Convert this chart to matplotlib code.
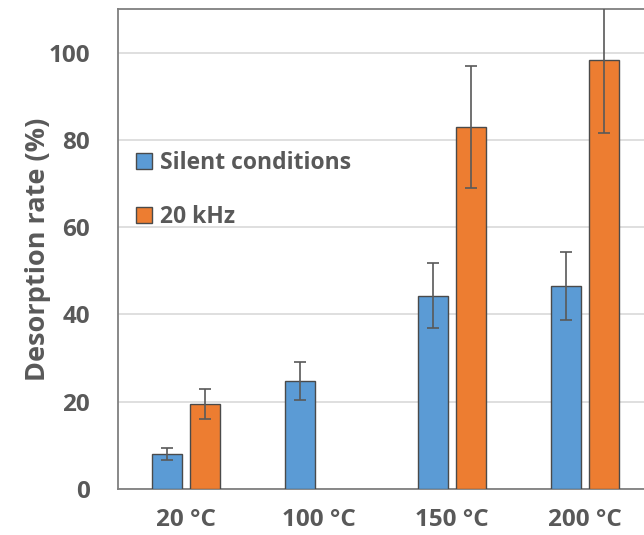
import numpy as np
import matplotlib.pyplot as plt

plt.rcParams['font.family'] = ['Open Sans', 'DejaVu Sans']
plt.rcParams['font.weight'] = 'bold'

temps = ['20 °C', '100 °C', '150 °C', '200 °C']
silent = [8.0, 24.7, 44.3, 46.5]
silent_err = [1.4, 4.3, 7.5, 7.8]
khz20 = [19.5, np.nan, 83.0, 98.2]
khz20_err = [3.4, np.nan, 14.0, 16.7]

text_col = '#595959'
blue = '#5B9BD5'
orange = '#ED7D31'

fig = plt.figure(figsize=(6.44, 5.35), dpi=100)
# axes runs past the right edge of the figure, like the cropped original
ax = fig.add_axes([118 / 644, 1 - 489 / 535, 600 / 644, 480 / 535])

x = np.arange(len(temps))
w = 0.225
off = 0.142
ax.bar(x - off, silent, w, color=blue, edgecolor='#4a4a4a', linewidth=1.0,
       label='Silent conditions', zorder=3)
ax.bar(x + off, khz20, w, color=orange, edgecolor='#4a4a4a', linewidth=1.0,
       label='20 kHz', zorder=3)
ax.errorbar(x - off, silent, yerr=silent_err, fmt='none', ecolor=text_col,
            elinewidth=1.2, capsize=4, capthick=1.2, zorder=4)
ax.errorbar(x + off, khz20, yerr=khz20_err, fmt='none', ecolor=text_col,
            elinewidth=1.2, capsize=4, capthick=1.2, zorder=4)

ax.set_xlim(-0.51, 4.0)
ax.set_ylim(0, 110)
ax.set_yticks([0, 20, 40, 60, 80, 100])
ax.set_xticks(x)
ax.set_xticklabels(temps)
ax.yaxis.grid(True, color='#d9d9d9', linewidth=1.2, zorder=0)
ax.set_axisbelow(True)

for s in ['left', 'bottom', 'top', 'right']:
    ax.spines[s].set_color('#7f7f7f')
    ax.spines[s].set_linewidth(1.3)

ax.tick_params(axis='both', length=0, labelsize=17.5, labelcolor=text_col)
ax.tick_params(axis='y', pad=20)
ax.tick_params(axis='x', pad=14)
ax.set_ylabel('Desorption rate (%)', fontsize=19.5, fontweight='bold',
              color=text_col, labelpad=-2)

ax.legend(loc='upper left', bbox_to_anchor=(127 / 644, 1 - 142 / 535),
          bbox_transform=fig.transFigure, frameon=False, fontsize=16.5,
          labelcolor=text_col, handlelength=0.7, handleheight=0.7,
          handletextpad=0.35, labelspacing=1.3, borderaxespad=0)

fig.savefig('out.png', dpi=100)
